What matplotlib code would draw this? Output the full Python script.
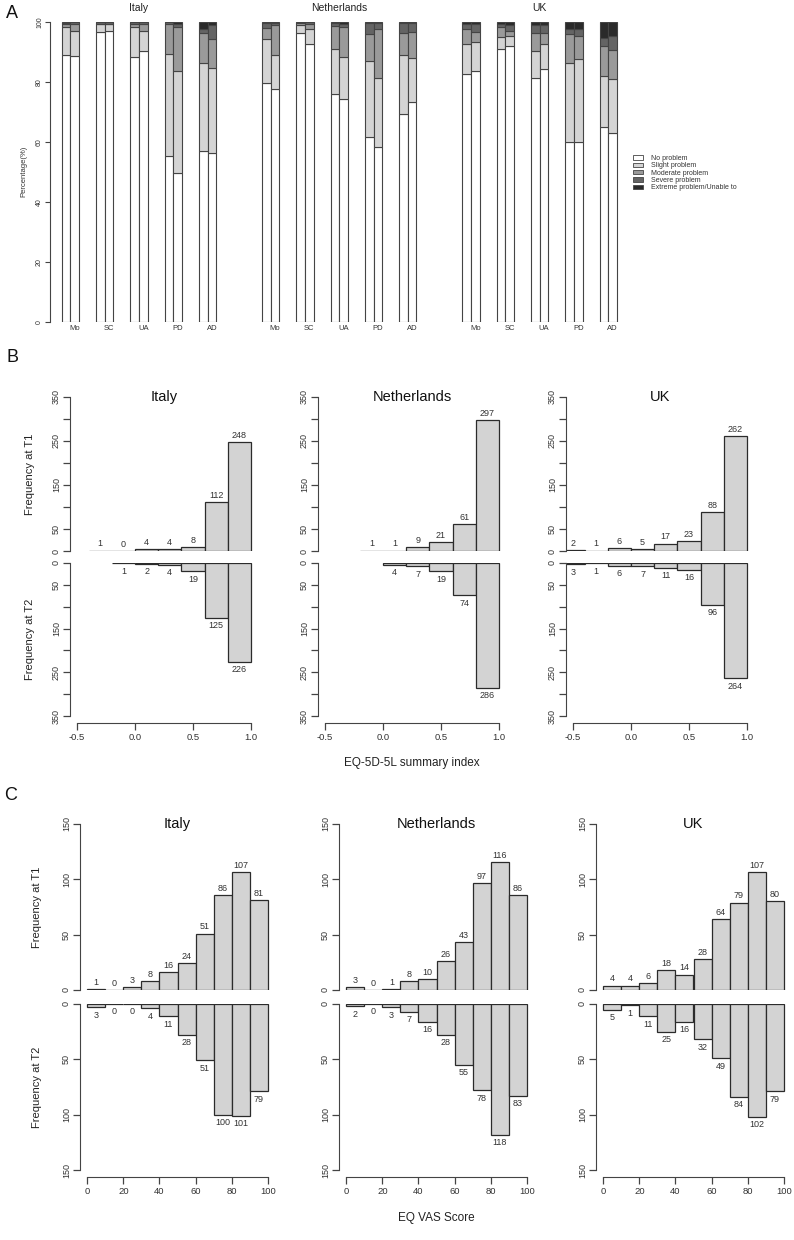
import numpy as np
import matplotlib.pyplot as plt
from matplotlib.patches import Patch

plt.rcParams['font.family'] = ['Liberation Sans', 'DejaVu Sans']

W, H = 794, 1240

countries = ['Italy', 'Netherlands', 'UK']
dims = ['Mo', 'SC', 'UA', 'PD', 'AD']
levels = ['No problem', 'Slight problem', 'Moderate problem', 'Severe problem',
          'Extreme problem/Unable to']
level_colors = ['#ffffff', '#d4d4d4', '#9a9a9a', '#646464', '#2a2a2a']

# panel A: % of respondents per level (rows = dims, cols = levels)
italy_t1 = [[89.0, 9.1, 1.1, 0.5, 0.3],
            [96.5, 2.7, 0.0, 0.6, 0.2],
            [88.4, 9.7, 1.1, 0.6, 0.2],
            [55.3, 33.8, 10.1, 0.6, 0.2],
            [57.1, 29.3, 9.8, 1.4, 2.4]]
italy_t2 = [[88.7, 8.3, 2.3, 0.5, 0.2],
            [97.0, 2.3, 0.0, 0.5, 0.2],
            [90.4, 6.5, 2.5, 0.4, 0.2],
            [49.6, 34.0, 14.7, 1.1, 0.6],
            [56.2, 28.3, 9.6, 4.8, 1.1]]
nl_t1 = [[79.7, 14.4, 3.9, 1.7, 0.3],
         [96.1, 2.8, 0.6, 0.3, 0.2],
         [75.8, 15.0, 7.8, 1.1, 0.3],
         [61.5, 25.4, 8.9, 3.9, 0.3],
         [69.2, 19.7, 7.2, 3.6, 0.3]]
nl_t2 = [[77.5, 11.4, 10.0, 0.8, 0.3],
         [92.6, 4.9, 1.7, 0.6, 0.2],
         [74.2, 13.9, 10.2, 1.1, 0.6],
         [58.2, 23.0, 16.4, 2.1, 0.3],
         [73.1, 14.7, 8.9, 3.0, 0.3]]
uk_t1 = [[82.6, 10.0, 4.9, 1.7, 0.8],
         [90.8, 4.0, 3.3, 1.1, 0.8],
         [81.2, 9.2, 5.9, 2.6, 1.1],
         [60.1, 26.0, 9.8, 1.7, 2.4],
         [64.9, 17.1, 10.0, 2.5, 5.5]]
uk_t2 = [[83.6, 9.5, 3.4, 2.7, 0.8],
         [91.9, 3.4, 1.6, 2.0, 1.1],
         [84.3, 8.3, 3.5, 2.8, 1.1],
         [60.1, 27.5, 7.6, 2.3, 2.5],
         [62.9, 17.9, 9.8, 4.6, 4.8]]

# panel B: EQ-5D-5L index histogram (bin left edges, width 0.2)
eq5d_left = [-0.6, -0.4, -0.2, 0.0, 0.2, 0.4, 0.6, 0.8]
nan = np.nan
eq5d_italy_t1 = [nan, 1, 0, 4, 4, 8, 112, 248]
eq5d_italy_t2 = [nan, nan, 1, 2, 4, 19, 125, 226]
eq5d_nl_t1 = [nan, nan, 1, 1, 9, 21, 61, 297]
eq5d_nl_t2 = [nan, nan, nan, 4, 7, 19, 74, 286]
eq5d_uk_t1 = [2, 1, 6, 5, 17, 23, 88, 262]
eq5d_uk_t2 = [3, 1, 6, 7, 11, 16, 96, 264]

# panel C: EQ VAS histogram (bin left edges, width 10)
vas_left = [0, 10, 20, 30, 40, 50, 60, 70, 80, 90]
vas_italy_t1 = [1, 0, 3, 8, 16, 24, 51, 86, 107, 81]
vas_italy_t2 = [3, 0, 0, 4, 11, 28, 51, 100, 101, 79]
vas_nl_t1 = [3, 0, 1, 8, 10, 26, 43, 97, 116, 86]
vas_nl_t2 = [2, 0, 3, 7, 16, 28, 55, 78, 118, 83]
vas_uk_t1 = [4, 4, 6, 18, 14, 28, 64, 79, 107, 80]
vas_uk_t2 = [5, 1, 11, 25, 16, 32, 49, 84, 102, 79]

ink = '#333333'
line_c = '#444444'
bar_fill = '#d3d3d3'

fig = plt.figure(figsize=(W / 100, H / 100), dpi=100)


def px_axes(x0, y0, x1, y1):
    return fig.add_axes([x0 / W, 1 - y1 / H, (x1 - x0) / W, (y1 - y0) / H])


# ---------------- panel A ----------------
unit = 8.58
group_step = 23.35
x_first = 61.7
axA = px_axes(50, 21.7, 625, 322)
a_data = [(italy_t1, italy_t2), (nl_t1, nl_t2), (uk_t1, uk_t2)]
for g, (t1, t2) in enumerate(a_data):
    for t, tab in enumerate((t1, t2)):
        tab = np.array(tab)
        x = g * group_step + np.arange(len(dims)) * 4 + t
        bottom = np.zeros(len(dims))
        for k in range(len(levels)):
            axA.bar(x, tab[:, k], width=1, bottom=bottom, align='edge',
                    color=level_colors[k], edgecolor=line_c, linewidth=0.8)
            bottom += tab[:, k]
    axA.annotate(countries[g], xy=(g * group_step + 9, 1),
                 xycoords=('data', 'axes fraction'), xytext=(0, 10),
                 textcoords='offset points', ha='center', va='center',
                 fontsize=7.5, color='#222222')

tick_x = [g * group_step + d * 4 + 1.5 for g in range(3) for d in range(len(dims))]
axA.set_xticks(tick_x)
axA.set_xticklabels(dims * 3)
axA.set_xlim(-(x_first - 50) / unit, (625 - x_first) / unit)
axA.set_ylim(0, 100)
axA.set_yticks(range(0, 101, 20))
for s in ['top', 'right', 'bottom']:
    axA.spines[s].set_visible(False)
axA.spines['left'].set_color(line_c)
axA.spines['left'].set_bounds(0, 100)
axA.tick_params(axis='x', length=0, labelsize=5.5, pad=2.5, labelcolor=ink)
axA.tick_params(axis='y', length=3.5, width=0.8, color=line_c, labelsize=5,
                labelrotation=90, pad=1.5, labelcolor=ink)
for lab in axA.get_yticklabels():
    lab.set_va('center')
axA.set_ylabel('Percentage(%)', fontsize=5.5, color=ink)
axA.yaxis.set_label_coords(-23 / 575, 0.5)

handles = [Patch(facecolor=c, edgecolor=line_c, linewidth=0.6) for c in level_colors]
fig.legend(handles, levels, loc='upper left', bbox_to_anchor=(633 / W, 1 - 155 / H),
           frameon=False, fontsize=5, handlelength=1.4, handleheight=0.55,
           labelspacing=0.05, handletextpad=1.2, borderpad=0, borderaxespad=0,
           labelcolor=ink)


# ---------------- panels B and C ----------------
def mirrored(x0, x1, top, mid1, mid2, bot, lefts, width, t1, t2, ymax, shown,
             xlim, xticks, xtick_fmt, title, ylab_x, ylabel, xlabel, xlabel_y):
    at = px_axes(x0, top, x1, mid1)
    ab = px_axes(x0, mid2, x1, bot)
    lefts = np.array(lefts, dtype=float)
    for ax, vals, up in ((at, t1, True), (ab, t2, False)):
        vals = np.array(vals, dtype=float)
        ok = ~np.isnan(vals)
        ax.bar(lefts[ok], vals[ok], width=width, align='edge', color=bar_fill,
               edgecolor='#2b2b2b', linewidth=0.9)
        for xl, v in zip(lefts[ok], vals[ok]):
            ax.annotate('%d' % v, xy=(xl + width / 2, v),
                        xytext=(0, 1.5 if up else -2.5), textcoords='offset points',
                        ha='center', va='bottom' if up else 'top',
                        fontsize=6.5, color=ink)
        ax.set_xlim(*xlim)
        yt = list(range(0, ymax + 1, 50))
        ax.set_yticks(yt)
        ax.set_yticklabels([str(v) if v in shown else '' for v in yt])
        for s in ['top', 'right']:
            ax.spines[s].set_visible(False)
        ax.spines['left'].set_bounds(0, ymax)
        ax.spines['left'].set_color(line_c)
        ax.tick_params(axis='y', length=5, width=0.9, color=line_c, labelsize=6.5,
                       labelrotation=90, pad=1.5, labelcolor=ink)
        for lab in ax.get_yticklabels():
            lab.set_va('center')
        if ylabel:
            ax.set_ylabel('Frequency at ' + ('T1' if up else 'T2'), fontsize=8,
                          color='#222222')
            ax.yaxis.set_label_coords(-(x0 - ylab_x) / (x1 - x0), 0.5)
            ax.yaxis.label.set_va('center')
    at.set_ylim(0, ymax)
    ab.set_ylim(ymax, 0)
    at.spines['bottom'].set_visible(False)
    at.set_xticks([])
    ab.spines['bottom'].set_position(('outward', 5))
    ab.spines['bottom'].set_bounds(xticks[0], xticks[-1])
    ab.spines['bottom'].set_color(line_c)
    ab.set_xticks(xticks)
    ab.set_xticklabels([xtick_fmt % v for v in xticks])
    ab.tick_params(axis='x', length=5, width=0.9, color=line_c, labelsize=6.8,
                   pad=2, labelcolor=ink)
    at.text(0.5, 1.0, title, transform=at.transAxes, ha='center', va='center',
            fontsize=10.5, color='#111111')
    if xlabel:
        ab.set_xlabel(xlabel, fontsize=8.5, color='#222222')
        ab.xaxis.set_label_coords(0.5, -(xlabel_y - bot) / (bot - mid2))
        ab.xaxis.label.set_va('center')


b_data = [(eq5d_italy_t1, eq5d_italy_t2), (eq5d_nl_t1, eq5d_nl_t2),
          (eq5d_uk_t1, eq5d_uk_t2)]
b_x0 = [70, 318, 566]
for i, (t1, t2) in enumerate(b_data):
    mirrored(b_x0[i], b_x0[i] + 188, 397, 551, 563, 716, eq5d_left, 0.2, t1, t2,
             350, [0, 50, 150, 250, 350], (-0.56, 1.06), [-0.5, 0.0, 0.5, 1.0], '%.1f',
             countries[i], b_x0[i] - 40, i == 0,
             'EQ-5D-5L summary index' if i == 1 else None, 763)

c_data = [(vas_italy_t1, vas_italy_t2), (vas_nl_t1, vas_nl_t2), (vas_uk_t1, vas_uk_t2)]
c_x0 = [80, 339, 596]
for i, (t1, t2) in enumerate(c_data):
    mirrored(c_x0[i], c_x0[i] + 195, 824, 990, 1004, 1170, vas_left, 10, t1, t2,
             150, [0, 50, 100, 150], (-4, 104), [0, 20, 40, 60, 80, 100], '%d',
             countries[i], c_x0[i] - 43, i == 0,
             'EQ VAS Score' if i == 1 else None, 1218)

fig.text(12 / W, 1 - 13 / H, 'A', fontsize=13, ha='center', va='center', color='#111111')
fig.text(12 / W, 1 - 358 / H, 'B', fontsize=13, ha='center', va='center', color='#111111')
fig.text(11 / W, 1 - 796 / H, 'C', fontsize=13, ha='center', va='center', color='#111111')

fig.savefig('out.png', dpi=100)
